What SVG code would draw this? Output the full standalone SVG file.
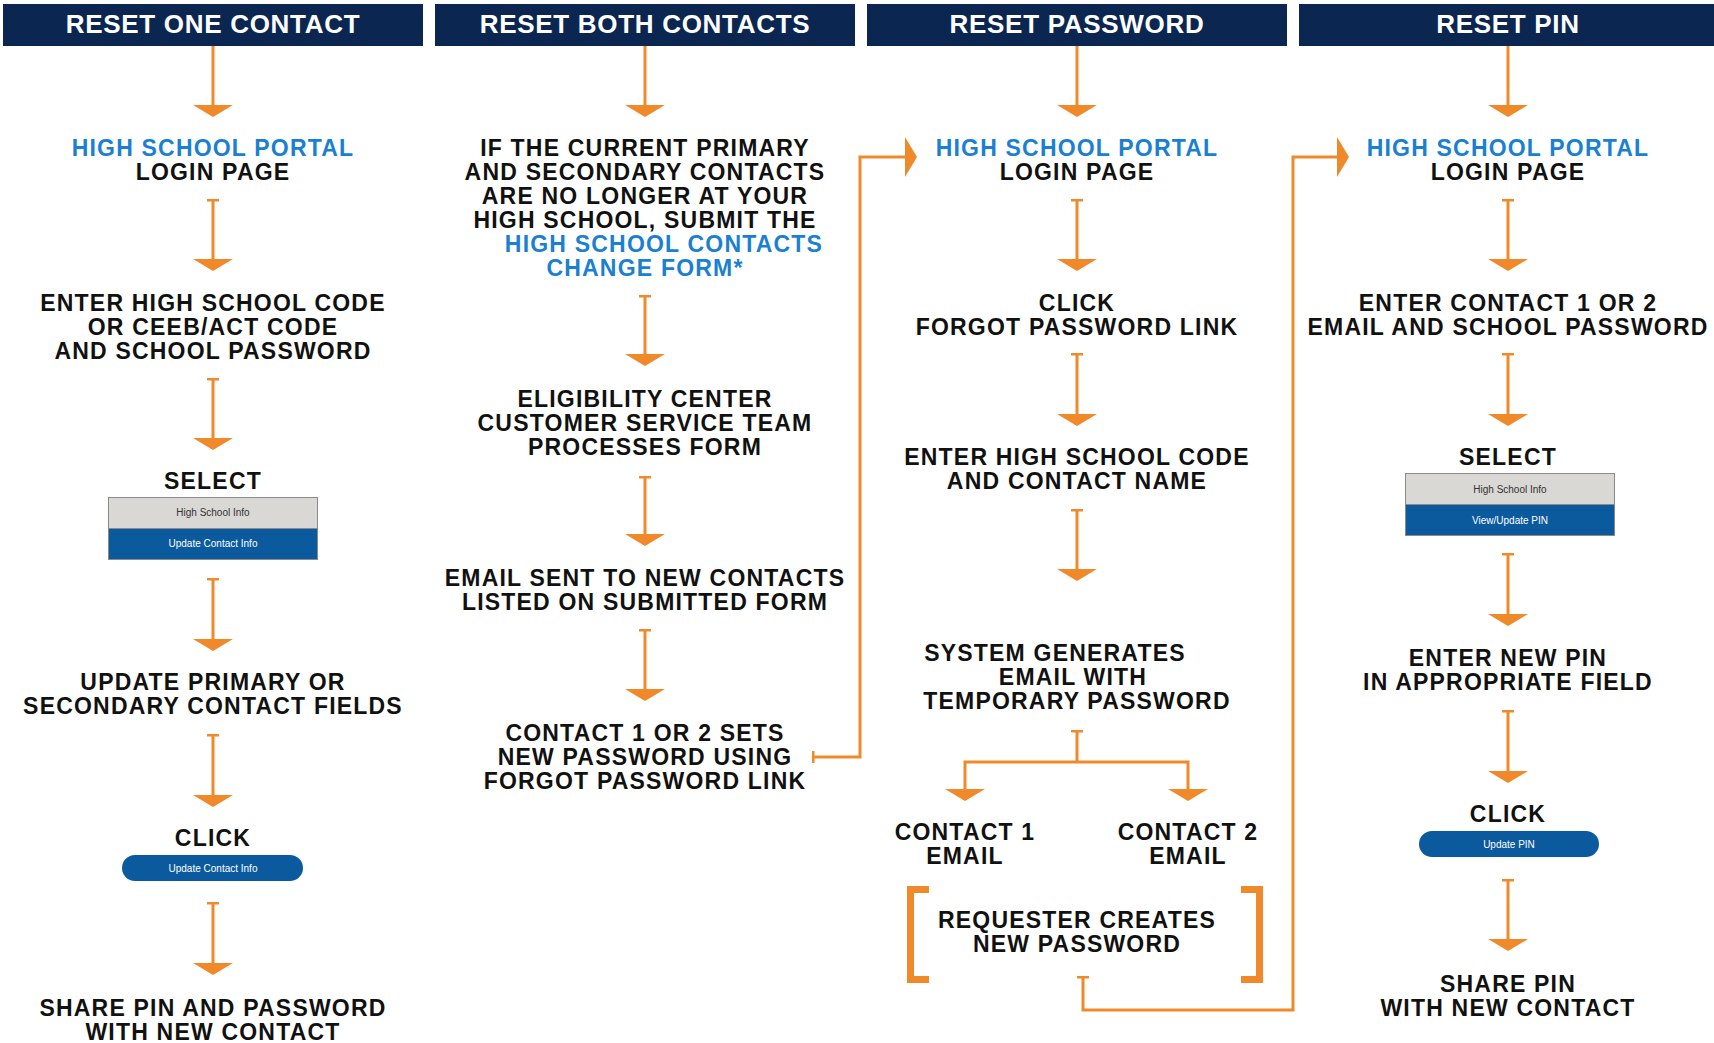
<svg xmlns="http://www.w3.org/2000/svg" width="1714" height="1043" viewBox="0 0 1714 1043">
<defs>
<style>
.hb{fill:#0c2652}
.h{font-family:"Liberation Sans",Arial,sans-serif;font-weight:bold;font-size:26px;letter-spacing:0.7px;fill:#fff;text-anchor:middle}
.t{font-family:"Liberation Sans",Arial,sans-serif;font-weight:bold;font-size:23px;letter-spacing:1.2px;fill:#111;text-anchor:middle}
.bl{fill:#1a80d2}
.ui{font-family:"Liberation Sans",Arial,sans-serif;font-size:10px;text-anchor:middle}
.ln{fill:none;stroke:#f0892a;stroke-width:3}
.br{fill:none;stroke:#f0892a;stroke-width:7;stroke-linejoin:miter}
.gray{fill:#d9d8d4;stroke:#8a8a8a;stroke-width:1}
.blue{fill:#0b5a9e;stroke:#8a8a8a;stroke-width:1}
.pill{fill:#0b5a9e}
</style>
<marker id="ah" viewBox="0 0 12 40" refX="11" refY="20" markerWidth="12" markerHeight="40" markerUnits="userSpaceOnUse" orient="auto">
<path d="M0,0 L12,20 L0,40 Z" fill="#f0892a"/>
</marker>
<marker id="tk" viewBox="0 0 3 12" refX="1.5" refY="6" markerWidth="3" markerHeight="12" markerUnits="userSpaceOnUse" orient="auto">
<rect x="0" y="0" width="3" height="12" fill="#f0892a"/>
</marker>
</defs>
<rect width="1714" height="1043" fill="#fff"/>

<g id="headers">
<g id="h1"><rect class="hb" x="3" y="4" width="420" height="42"/><text class="h" x="213" y="33">RESET ONE CONTACT</text></g>
<g id="h2"><rect class="hb" x="435" y="4" width="420" height="42"/><text class="h" x="645" y="33">RESET BOTH CONTACTS</text></g>
<g id="h3"><rect class="hb" x="867" y="4" width="420" height="42"/><text class="h" x="1077" y="33">RESET PASSWORD</text></g>
<g id="h4"><rect class="hb" x="1299" y="4" width="415" height="42"/><text class="h" x="1508" y="33">RESET PIN</text></g>
</g>

<g id="connectors">
<path class="ln" d="M213,46 V116" marker-end="url(#ah)"/>
<path class="ln" d="M213,200 V270" marker-start="url(#tk)" marker-end="url(#ah)"/>
<path class="ln" d="M213,379 V449" marker-start="url(#tk)" marker-end="url(#ah)"/>
<path class="ln" d="M213,579 V650" marker-start="url(#tk)" marker-end="url(#ah)"/>
<path class="ln" d="M213,735 V806" marker-start="url(#tk)" marker-end="url(#ah)"/>
<path class="ln" d="M213,903 V974" marker-start="url(#tk)" marker-end="url(#ah)"/>

<path class="ln" d="M645,46 V116" marker-end="url(#ah)"/>
<path class="ln" d="M645,296 V365" marker-start="url(#tk)" marker-end="url(#ah)"/>
<path class="ln" d="M645,477 V545" marker-start="url(#tk)" marker-end="url(#ah)"/>
<path class="ln" d="M645,630 V700" marker-start="url(#tk)" marker-end="url(#ah)"/>
<path class="ln" d="M813,757 H860 V157 H916" marker-start="url(#tk)" marker-end="url(#ah)"/>

<path class="ln" d="M1077,46 V116" marker-end="url(#ah)"/>
<path class="ln" d="M1077,200 V270" marker-start="url(#tk)" marker-end="url(#ah)"/>
<path class="ln" d="M1077,354 V425" marker-start="url(#tk)" marker-end="url(#ah)"/>
<path class="ln" d="M1077,510 V580" marker-start="url(#tk)" marker-end="url(#ah)"/>
<path class="ln" d="M1077,731 V762" marker-start="url(#tk)"/>
<path class="ln" d="M1077,762 H965 V800" marker-end="url(#ah)"/>
<path class="ln" d="M1077,762 H1188 V800" marker-end="url(#ah)"/>
<path class="ln" d="M1083,977 V1010 H1293 V157 H1348" marker-start="url(#tk)" marker-end="url(#ah)"/>

<path class="ln" d="M1508,46 V116" marker-end="url(#ah)"/>
<path class="ln" d="M1508,200 V270" marker-start="url(#tk)" marker-end="url(#ah)"/>
<path class="ln" d="M1508,354 V425" marker-start="url(#tk)" marker-end="url(#ah)"/>
<path class="ln" d="M1508,554 V625" marker-start="url(#tk)" marker-end="url(#ah)"/>
<path class="ln" d="M1508,711 V782" marker-start="url(#tk)" marker-end="url(#ah)"/>
<path class="ln" d="M1508,880 V950" marker-start="url(#tk)" marker-end="url(#ah)"/>
</g>

<g id="c1-login"><text class="t bl" x="213" y="156">HIGH SCHOOL PORTAL</text><text class="t" x="213" y="180">LOGIN PAGE</text></g>
<g id="c1-enter"><text class="t" x="213" y="311">ENTER HIGH SCHOOL CODE</text><text class="t" x="213" y="335">OR CEEB/ACT CODE</text><text class="t" x="213" y="359">AND SCHOOL PASSWORD</text></g>
<g id="c1-select"><text class="t" x="213" y="489">SELECT</text>
<rect class="gray" x="108.5" y="497.5" width="209" height="31"/>
<rect class="blue" x="108.5" y="528.5" width="209" height="31"/>
<text class="ui" x="213" y="516" fill="#333">High School Info</text>
<text class="ui" x="213" y="547" fill="#fff">Update Contact Info</text></g>
<g id="c1-update"><text class="t" x="213" y="690">UPDATE PRIMARY OR</text><text class="t" x="213" y="714">SECONDARY CONTACT FIELDS</text></g>
<g id="c1-click"><text class="t" x="213" y="846">CLICK</text>
<rect class="pill" x="122" y="855" width="181" height="26" rx="13"/>
<text class="ui" x="213" y="871.5" fill="#fff">Update Contact Info</text></g>
<g id="c1-share"><text class="t" x="213" y="1016">SHARE PIN AND PASSWORD</text><text class="t" x="213" y="1040">WITH NEW CONTACT</text></g>

<g id="c2-if"><text class="t" x="645" y="156">IF THE CURRENT PRIMARY</text><text class="t" x="645" y="180">AND SECONDARY CONTACTS</text><text class="t" x="645" y="204">ARE NO LONGER AT YOUR</text><text class="t" x="645" y="228">HIGH SCHOOL, SUBMIT THE</text><text class="t bl" x="664" y="252">HIGH SCHOOL CONTACTS</text><text class="t bl" x="645" y="276">CHANGE FORM*</text></g>
<g id="c2-elig"><text class="t" x="645" y="407">ELIGIBILITY CENTER</text><text class="t" x="645" y="431">CUSTOMER SERVICE TEAM</text><text class="t" x="645" y="455">PROCESSES FORM</text></g>
<g id="c2-email"><text class="t" x="645" y="586">EMAIL SENT TO NEW CONTACTS</text><text class="t" x="645" y="610">LISTED ON SUBMITTED FORM</text></g>
<g id="c2-contact"><text class="t" x="645" y="741">CONTACT 1 OR 2 SETS</text><text class="t" x="645" y="765">NEW PASSWORD USING</text><text class="t" x="645" y="789">FORGOT PASSWORD LINK</text></g>

<g id="c3-login"><text class="t bl" x="1077" y="156">HIGH SCHOOL PORTAL</text><text class="t" x="1077" y="180">LOGIN PAGE</text></g>
<g id="c3-click"><text class="t" x="1077" y="311">CLICK</text><text class="t" x="1077" y="335">FORGOT PASSWORD LINK</text></g>
<g id="c3-enter"><text class="t" x="1077" y="465">ENTER HIGH SCHOOL CODE</text><text class="t" x="1077" y="489">AND CONTACT NAME</text></g>
<g id="c3-system"><text class="t" x="1055" y="661">SYSTEM GENERATES</text><text class="t" x="1073" y="685">EMAIL WITH</text><text class="t" x="1077" y="709">TEMPORARY PASSWORD</text></g>
<g id="c3-contact1"><text class="t" x="965" y="840">CONTACT 1</text><text class="t" x="965" y="864">EMAIL</text></g>
<g id="c3-contact2"><text class="t" x="1188" y="840">CONTACT 2</text><text class="t" x="1188" y="864">EMAIL</text></g>
<g id="c3-requester">
<polyline class="br" points="929,889.5 910.5,889.5 910.5,979.5 929,979.5"/>
<polyline class="br" points="1241,889.5 1259.5,889.5 1259.5,979.5 1241,979.5"/>
<text class="t" x="1077" y="928">REQUESTER CREATES</text><text class="t" x="1077" y="952">NEW PASSWORD</text></g>

<g id="c4-login"><text class="t bl" x="1508" y="156">HIGH SCHOOL PORTAL</text><text class="t" x="1508" y="180">LOGIN PAGE</text></g>
<g id="c4-enter"><text class="t" x="1508" y="311">ENTER CONTACT 1 OR 2</text><text class="t" x="1508" y="335">EMAIL AND SCHOOL PASSWORD</text></g>
<g id="c4-select"><text class="t" x="1508" y="465">SELECT</text>
<rect class="gray" x="1405.5" y="473.5" width="209" height="31"/>
<rect class="blue" x="1405.5" y="504.5" width="209" height="31"/>
<text class="ui" x="1510" y="492.5" fill="#333">High School Info</text>
<text class="ui" x="1510" y="523.5" fill="#fff">View/Update PIN</text></g>
<g id="c4-newpin"><text class="t" x="1508" y="666">ENTER NEW PIN</text><text class="t" x="1508" y="690">IN APPROPRIATE FIELD</text></g>
<g id="c4-click"><text class="t" x="1508" y="822">CLICK</text>
<rect class="pill" x="1419" y="831" width="180" height="26" rx="13"/>
<text class="ui" x="1509" y="847.5" fill="#fff">Update PIN</text></g>
<g id="c4-share"><text class="t" x="1508" y="992">SHARE PIN</text><text class="t" x="1508" y="1016">WITH NEW CONTACT</text></g>
</svg>
